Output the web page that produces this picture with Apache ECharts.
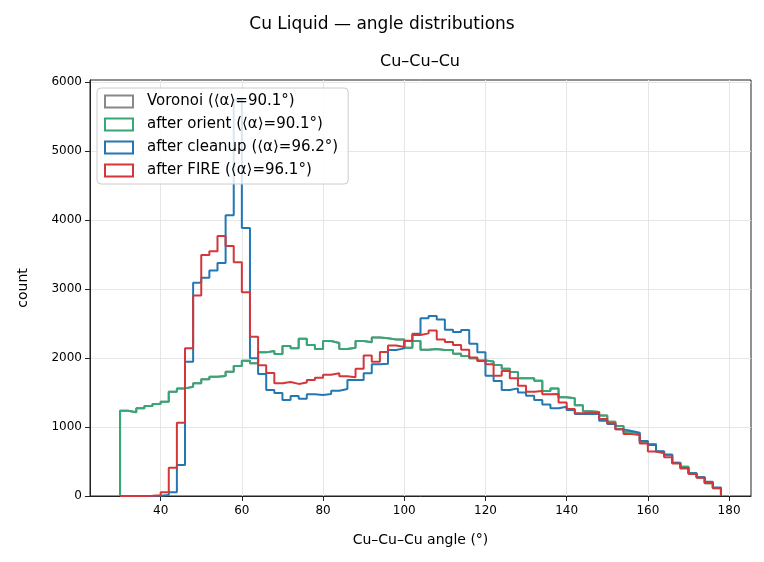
<!DOCTYPE html>
<html>
<head>
<meta charset="utf-8">
<title>Cu Liquid — angle distributions</title>
<script src="https://cdn.jsdelivr.net/npm/echarts@6/dist/echarts.min.js"></script>
<style>
    html, body { margin: 0; padding: 0; background: #fff; }
    #chart { width: 764px; height: 562px; }
</style>
</head>
<body>
<div id="chart"></div>
<script>
    // bin edges in degrees (2 degree bins, 30..178)
    var binEdges = [30, 32, 34, 36, 38, 40, 42, 44, 46, 48, 50, 52, 54, 56, 58, 60, 62, 64, 66, 68,
        70, 72, 74, 76, 78, 80, 82, 84, 86, 88, 90, 92, 94, 96, 98, 100, 102, 104, 106, 108,
        110, 112, 114, 116, 118, 120, 122, 124, 126, 128, 130, 132, 134, 136, 138, 140, 142, 144, 146, 148,
        150, 152, 154, 156, 158, 160, 162, 164, 166, 168, 170, 172, 174, 176, 178];

    // counts per bin
    var afterOrient = [1237, 1213, 1271, 1304, 1333, 1367, 1512, 1560, 1585, 1633,
        1691, 1729, 1739, 1802, 1884, 1961, 1923, 2082, 2101, 2058,
        2174, 2140, 2278, 2188, 2130, 2246, 2218, 2130, 2150, 2248,
        2230, 2299, 2285, 2270, 2270, 2150, 2246, 2120, 2130, 2116,
        2116, 2062, 2030, 1995, 1965, 1950, 1899, 1845, 1797, 1705,
        1705, 1669, 1522, 1560, 1430, 1416, 1314, 1230, 1217, 1166,
        1077, 1016, 932, 908, 787, 754, 642, 594, 483, 425,
        329, 271, 184, 112];
    // Voronoi curve lies exactly under the "after orient" one
    var voronoi = afterOrient.slice();
    var afterCleanup = [0, 0, 0, 0, 2, 14, 53, 449, 1947, 3092,
        3164, 3270, 3377, 4068, 5740, 3885, 1995, 1770, 1536, 1493,
        1391, 1449, 1408, 1475, 1464, 1478, 1525, 1550, 1681, 1681,
        1778, 1910, 1918, 2116, 2140, 2250, 2352, 2575, 2609, 2560,
        2410, 2377, 2406, 2208, 2085, 1744, 1667, 1536, 1560, 1502,
        1454, 1391, 1328, 1271, 1295, 1246, 1188, 1188, 1188, 1092,
        1043, 966, 942, 918, 797, 740, 650, 600, 480, 405,
        330, 270, 205, 125];
    var afterFire = [0, 0, 0, 2, 12, 55, 410, 1063, 2140, 2908,
        3493, 3548, 3770, 3625, 3390, 2955, 2309, 1894, 1782, 1633,
        1652, 1625, 1645, 1681, 1715, 1758, 1778, 1735, 1722, 1843,
        2036, 1947, 2087, 2181, 2160, 2248, 2333, 2357, 2400, 2270,
        2232, 2188, 2120, 2008, 1957, 1908, 1744, 1812, 1705, 1599,
        1512, 1522, 1476, 1478, 1357, 1261, 1198, 1208, 1212, 1116,
        1053, 966, 898, 884, 760, 645, 620, 560, 470, 400,
        320, 265, 190, 115];

    var seriesNames = ['Voronoi (⟨α⟩=90.1°)', 'after orient (⟨α⟩=90.1°)',
        'after cleanup (⟨α⟩=96.2°)', 'after FIRE (⟨α⟩=96.1°)'];
    var xTicks = [40, 60, 80, 100, 120, 140, 160, 180];
    var yTicks = [0, 1000, 2000, 3000, 4000, 5000, 6000];

    var FONT = 'DejaVu Sans';
    var AXIS_COLOR = '#222';

    // outline of a step histogram: up at the first edge, down at the last one
    function stepData(counts) {
        var pts = [[binEdges[0], 0]];
        for (var i = 0; i < counts.length; i++) {
            pts.push([binEdges[i], counts[i]]);
        }
        pts.push([binEdges[counts.length], counts[counts.length - 1]]);
        pts.push([binEdges[counts.length], 0]);
        return pts;
    }

    function histSeries(name, counts, color) {
        return {
            name: name,
            type: 'line',
            step: 'end',
            color: color,
            showSymbol: false,
            symbol: 'none',
            animation: false,
            z: 2,
            lineStyle: {width: 2, color: color},
            data: stepData(counts)
        };
    }

    var chart = echarts.init(document.getElementById('chart'));

    var option = {
        animation: false,
        backgroundColor: '#fff',
        textStyle: {fontFamily: FONT},
        title: {
            text: 'Cu Liquid — angle distributions',
            left: 'center',
            top: 11,
            textStyle: {fontFamily: FONT, fontSize: 17, fontWeight: 'normal', color: '#000'}
        },
        graphic: [{
            type: 'text',
            x: 420,
            y: 62,
            style: {
                text: 'Cu–Cu–Cu',
                textAlign: 'center',
                textVerticalAlign: 'middle',
                font: '16px "DejaVu Sans"',
                fill: '#000'
            }
        }],
        legend: {
            orient: 'vertical',
            left: 97,
            top: 88,
            z: 10,
            padding: [6, 10, 6, 7],
            itemGap: 8,
            itemWidth: 28,
            itemHeight: 12,
            icon: 'emptyRect',
            backgroundColor: 'rgba(255,255,255,0.82)',
            borderColor: '#cccccc',
            borderWidth: 1,
            borderRadius: 4,
            textStyle: {fontFamily: FONT, fontSize: 15, color: '#000', padding: [0, 0, 0, 9]},
            data: seriesNames
        },
        grid: {
            left: 90,
            right: 13,
            top: 80,
            bottom: 66,
            show: true,
            borderColor: AXIS_COLOR,
            borderWidth: 1,
            outerBoundsMode: 'none'
        },
        xAxis: {
            type: 'value',
            min: 22.6,
            max: 185.4,
            name: 'Cu–Cu–Cu angle (°)',
            nameLocation: 'middle',
            nameGap: 37,
            nameTextStyle: {fontFamily: FONT, fontSize: 14, color: '#000'},
            axisLine: {show: true, lineStyle: {color: AXIS_COLOR, width: 1}},
            axisTick: {show: true, length: 5, customValues: xTicks, lineStyle: {color: AXIS_COLOR}},
            axisLabel: {customValues: xTicks, margin: 9, fontFamily: FONT, fontSize: 12, color: '#000',
                formatter: function (v) { return String(v); }},
            splitLine: {show: true, lineStyle: {color: '#e6e6e6', width: 1}}
        },
        yAxis: {
            type: 'value',
            min: 0,
            max: 6030,
            name: 'count',
            nameLocation: 'middle',
            nameRotate: 90,
            nameGap: 60,
            nameTextStyle: {fontFamily: FONT, fontSize: 14, color: '#000'},
            axisLine: {show: true, lineStyle: {color: AXIS_COLOR, width: 1}},
            axisTick: {show: true, length: 5, customValues: yTicks, lineStyle: {color: AXIS_COLOR}},
            axisLabel: {customValues: yTicks, margin: 8, fontFamily: FONT, fontSize: 12, color: '#000',
                formatter: function (v) { return String(v); }},
            splitLine: {show: true, lineStyle: {color: '#e6e6e6', width: 1}}
        },
        series: [
            histSeries(seriesNames[0], voronoi, '#888888'),
            histSeries(seriesNames[1], afterOrient, '#36a776'),
            histSeries(seriesNames[2], afterCleanup, '#2377b2'),
            histSeries(seriesNames[3], afterFire, '#d3373a')
        ]
    };

    chart.setOption(option);
</script>
</body>
</html>
